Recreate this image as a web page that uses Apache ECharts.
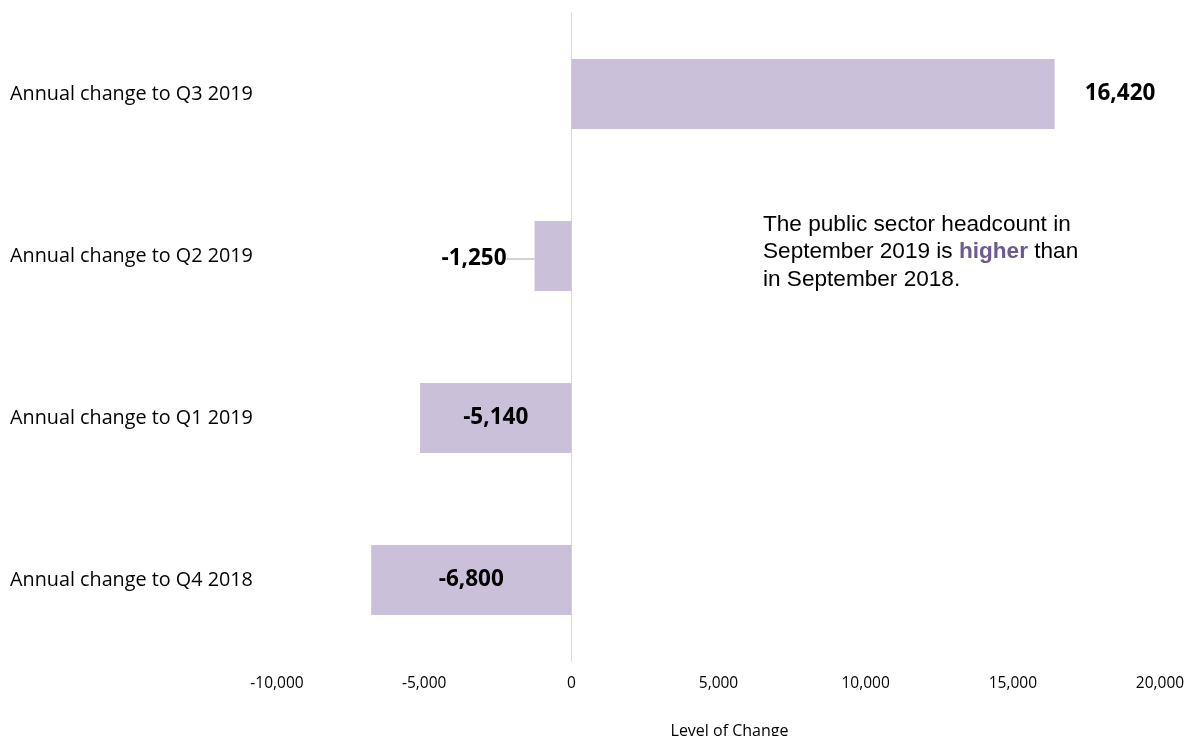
<!DOCTYPE html>
<html>
<head>
<meta charset="utf-8">
<script src="https://cdn.jsdelivr.net/npm/echarts@6/dist/echarts.min.js"></script>
<style>
html,body{margin:0;padding:0;background:#fff;}
#chart{width:1190px;height:736px;}
</style>
</head>
<body>
<div id="chart"></div>
<script>
// Categories listed bottom to top
const categories = [
  'Annual change to Q4 2018',
  'Annual change to Q1 2019',
  'Annual change to Q2 2019',
  'Annual change to Q3 2019'
];
const values = [-6800, -5140, -1250, 16420];
// Where each value label sits relative to its bar
const labelPlacement = ['inside', 'inside', 'left', 'right'];

const fmt = v => v.toLocaleString('en-US');
const FONT = '"Open Sans", Lato, sans-serif';

const chart = echarts.init(document.getElementById('chart'));
chart.setOption({
  animation: false,
  backgroundColor: '#ffffff',
  grid: {
    left: 277, right: 30, top: 13, bottom: 75,
    containLabel: false, outerBoundsMode: 'none'
  },
  xAxis: {
    type: 'value',
    min: -10000, max: 20000, interval: 5000,
    axisLine: { show: false },
    axisTick: { show: false },
    splitLine: { show: false },
    axisLabel: {
      formatter: fmt, margin: 15,
      fontFamily: FONT, fontSize: 15.5, color: '#000'
    },
    name: 'Level of Change',
    nameLocation: 'middle', nameGap: 62,
    nameTextStyle: { fontFamily: FONT, fontSize: 16, color: '#000', padding: [0, 0, 0, 22] }
  },
  yAxis: {
    type: 'category',
    data: categories,
    axisLine: { show: true, onZero: true, lineStyle: { color: '#d9d9d9', width: 1 } },
    axisTick: { show: false },
    axisLabel: {
      align: 'left', margin: 267,
      fontFamily: FONT, fontSize: 19.8, color: '#000'
    }
  },
  series: [{
    type: 'bar',
    barWidth: 70,
    itemStyle: { color: '#cac0da' },
    data: values.map((v, i) => ({
      value: v,
      label: {
        show: true,
        position: labelPlacement[i],
        distance: labelPlacement[i] === 'right' ? 30 : 5
      },
      labelLine: { show: labelPlacement[i] === 'left' }
    })),
    label: {
      formatter: p => fmt(p.value),
      fontFamily: FONT, fontSize: 22.5, fontWeight: 'bold', color: '#000'
    },
    labelLine: { lineStyle: { color: '#a6a6a6', width: 1 } },
    labelLayout: p => (labelPlacement[p.dataIndex] === 'left' ? { dx: -23, dy: 3 } : {})
  }],
  graphic: [{
    type: 'text',
    left: 763, top: 213,
    style: {
      text: '{n|The public sector headcount in}\n{n|September 2019 is }{h|higher}{n| than}\n{n|in September 2018.}',
      rich: {
        n: { fontFamily: '"Liberation Sans", Arial, sans-serif', fontSize: 22.6, fill: '#000', lineHeight: 27.5 },
        h: { fontFamily: '"Liberation Sans", Arial, sans-serif', fontSize: 22.6, fontWeight: 'bold', fill: '#6e5a8e', lineHeight: 27.5 }
      }
    }
  }]
});
</script>
</body>
</html>
